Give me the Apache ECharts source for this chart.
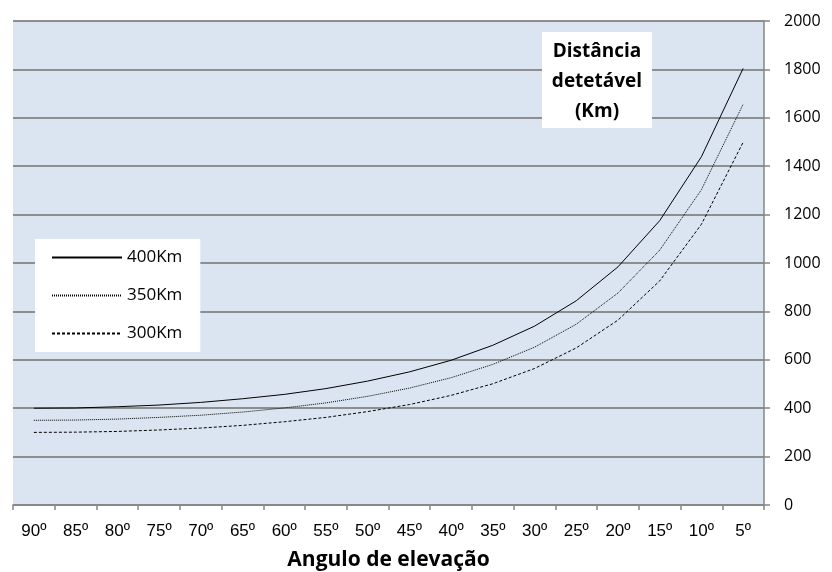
<!DOCTYPE html>
<html>
<head>
<meta charset="utf-8">
<script src="https://cdn.jsdelivr.net/npm/echarts@6/dist/echarts.min.js"></script>
<style>
  html, body { margin: 0; padding: 0; background: #ffffff; }
  #chart { width: 832px; height: 572px; }
</style>
</head>
<body>
<div id="chart"></div>
<script>
// angulos de elevacao (eixo X)
var angulos = ['90º', '85º', '80º', '75º', '70º', '65º', '60º', '55º', '50º', '45º',
  '40º', '35º', '30º', '25º', '20º', '15º', '10º', '5º'];

// distancia detetavel (Km) por altitude
var dist400 = [400, 401, 406, 413, 424, 439, 457, 481, 512, 550, 598, 660, 739, 844, 984, 1175, 1439, 1804];
var dist350 = [350, 351, 355, 362, 371, 384, 401, 422, 449, 483, 526, 581, 652, 747, 876, 1053, 1303, 1656];
var dist300 = [300, 301, 304, 310, 318, 329, 344, 362, 386, 415, 453, 501, 564, 649, 764, 926, 1160, 1499];

var nomes = ['400Km', '350Km', '300Km'];
var yTicks = [0, 200, 400, 600, 800, 1000, 1200, 1400, 1600, 1800, 2000];

var fonte = '"Open Sans", "Noto Sans", sans-serif';

var chart = echarts.init(document.getElementById('chart'));

var option = {
  animation: false,
  textStyle: { fontFamily: fonte },
  grid: {
    left: 13,
    right: 68,
    top: 21,
    bottom: 67,
    containLabel: false,
    outerBoundsMode: 'none',
    show: true,
    backgroundColor: '#dbe5f1',
    borderWidth: 0
  },
  legend: {
    orient: 'vertical',
    left: 35,
    top: 239,
    backgroundColor: '#ffffff',
    padding: [10, 18, 10, 16],
    itemWidth: 70,
    itemHeight: 14,
    itemGap: 21,
    itemStyle: { opacity: 0 },
    textStyle: { fontFamily: fonte, fontSize: 17, color: '#000000' },
    data: nomes
  },
  graphic: [
    {
      type: 'rect',
      shape: { x: 542, y: 32, width: 110, height: 96 },
      style: { fill: '#ffffff' },
      z: 10
    },
    {
      type: 'text',
      x: 597,
      y: 82,
      style: {
        text: 'Distância\ndetetável\n(Km)',
        font: 'bold 19px ' + fonte,
        fill: '#000000',
        textAlign: 'center',
        textVerticalAlign: 'middle',
        lineHeight: 30
      },
      z: 11
    }
  ],
  xAxis: {
    type: 'category',
    data: angulos,
    boundaryGap: true,
    name: 'Angulo de elevação',
    nameLocation: 'middle',
    nameGap: 45,
    nameTextStyle: { fontFamily: fonte, fontSize: 21, fontWeight: 'bold', color: '#000000' },
    axisLine: { show: true, lineStyle: { color: '#868686', width: 1.5 } },
    axisTick: { show: true, length: 5, alignWithLabel: false, lineStyle: { color: '#868686', width: 1.5 } },
    axisLabel: {
      color: '#000000',
      fontFamily: '"Liberation Sans", Arial, sans-serif',
      fontSize: 17,
      margin: 18,
      interval: 0
    },
    splitLine: { show: false }
  },
  yAxis: {
    type: 'value',
    position: 'right',
    min: yTicks[0],
    max: yTicks[yTicks.length - 1],
    interval: 200,
    axisLine: { show: true, lineStyle: { color: '#868686', width: 1.5 } },
    axisTick: { show: true, length: 6, lineStyle: { color: '#868686', width: 1.5 } },
    axisLabel: {
      color: '#000000',
      fontSize: 16,
      margin: 20,
      formatter: function (val) {
        return String(val);
      }
    },
    splitLine: { show: true, lineStyle: { color: '#8e8e8e', width: 2 } }
  },
  series: [
    {
      name: nomes[0],
      type: 'line',
      symbol: 'none',
      data: dist400,
      lineStyle: { color: '#000000', width: 1, type: 'solid' },
      itemStyle: { color: '#000000' }
    },
    {
      name: nomes[1],
      type: 'line',
      symbol: 'none',
      data: dist350,
      lineStyle: { color: '#000000', width: 1, type: [1, 1] },
      itemStyle: { color: '#000000' }
    },
    {
      name: nomes[2],
      type: 'line',
      symbol: 'none',
      data: dist300,
      lineStyle: { color: '#000000', width: 1, type: [3, 2] },
      itemStyle: { color: '#000000' }
    }
  ]
};

chart.setOption(option);
window.addEventListener('resize', function () {
  chart.resize();
});
</script>
</body>
</html>
